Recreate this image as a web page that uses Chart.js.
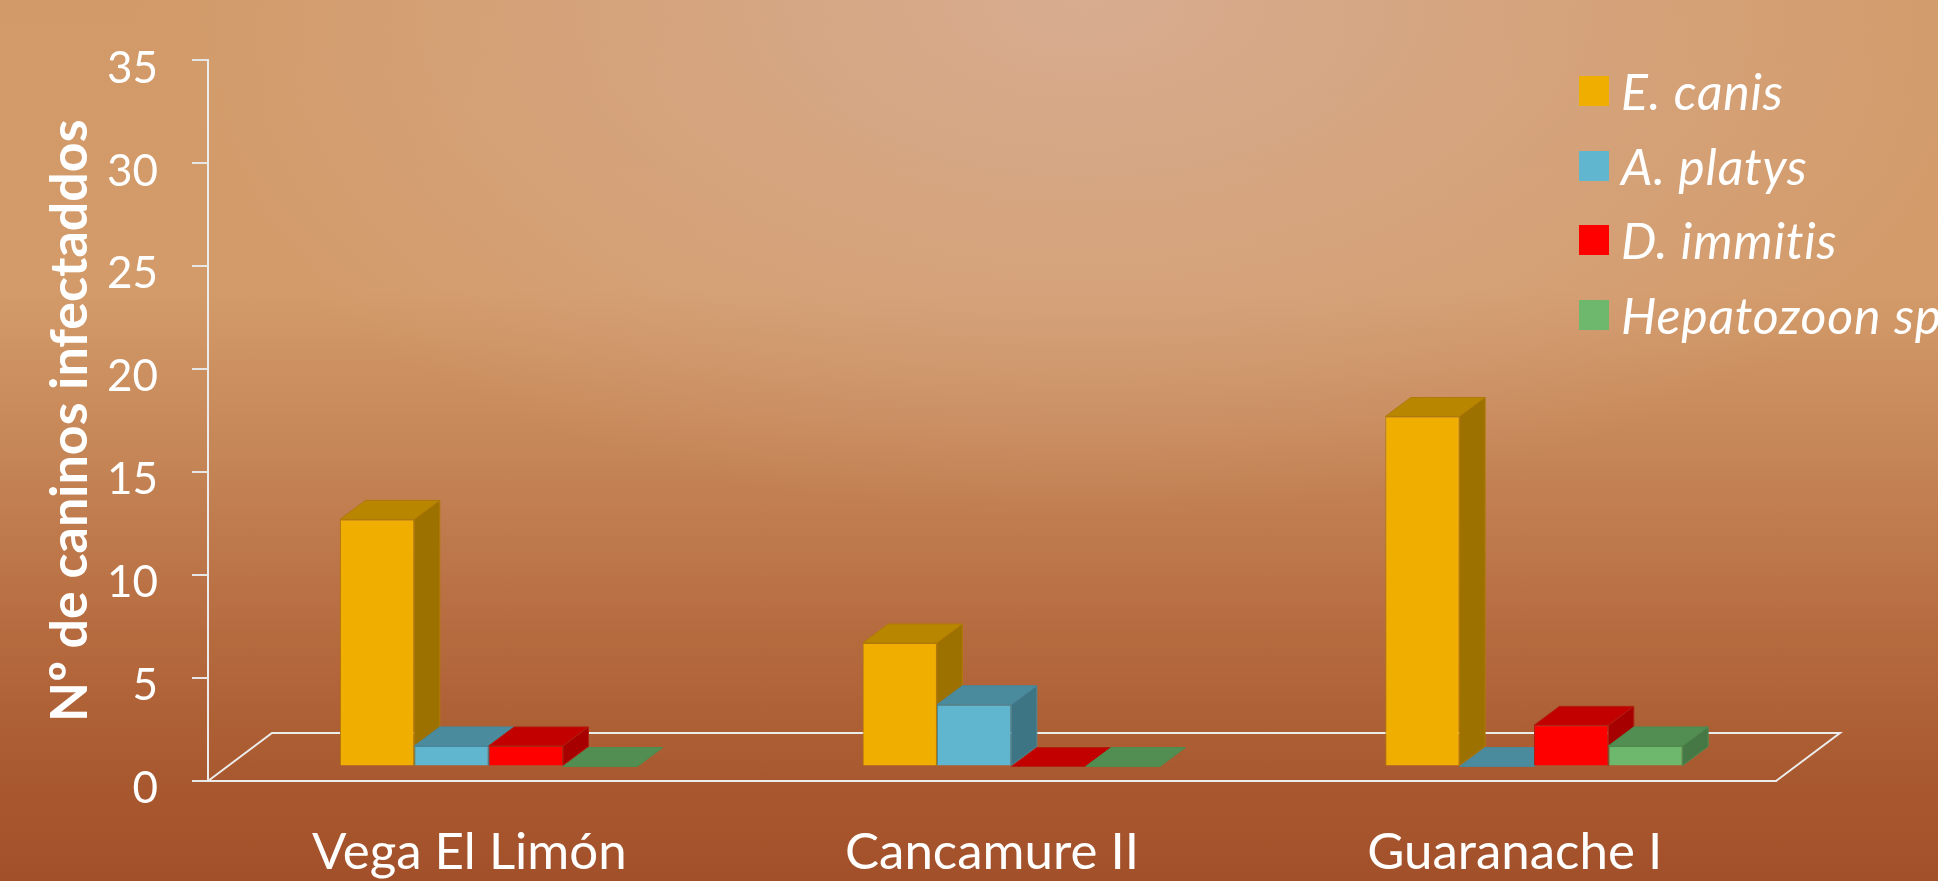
<!DOCTYPE html>
<html lang="es">
<head>
<meta charset="utf-8">
<title>Caninos infectados por localidad</title>
<script src="https://cdn.jsdelivr.net/npm/chart.js@4.4.1/dist/chart.umd.min.js"></script>
<style>
  html, body {
    margin: 0;
    width: 1938px;
    height: 881px;
    overflow: hidden;
  }
  body {
    position: relative;
    font-family: Lato, 'Open Sans', sans-serif;
    background:
      radial-gradient(ellipse 950px 520px at 56% 0%, rgba(216, 174, 148, 0.9), rgba(216, 174, 148, 0) 100%),
      linear-gradient(to bottom, #d29a68 0%, #d39b6a 33%, #c58556 52%, #b66b3f 72%, #a9592f 88%, #a2502a 100%);
  }
  #lienzo {
    position: absolute;
    left: 0; top: 0;
    width: 1938px;
    height: 881px;
  }
  #leyenda {
    position: absolute;
    left: 1579px;
    top: 54px;
    margin: 0;
    padding: 0;
    list-style: none;
    white-space: nowrap;
    color: #fff;
    font: italic 50px Lato, sans-serif;
    letter-spacing: 0.8px;
  }
  #leyenda li {
    height: 74.6px;
    display: flex;
    align-items: center;
  }
  #leyenda span.caja {
    width: 30px;
    height: 30px;
    margin-right: 12px;
    flex: none;
  }
</style>
</head>
<body>
<div id="lienzo"><canvas id="grafico"></canvas></div>
<ul id="leyenda"></ul>

<script>
// ───────────────────────── datos
const categorias   = ['Vega El Limón', 'Cancamure II', 'Guaranache I'];
const nombresSerie = ['E. canis', 'A. platys', 'D. immitis', 'Hepatozoon sp.'];
const eCanis       = [12, 6, 17];
const aPlatys      = [1, 3, 0];
const dImmitis     = [1, 0, 2];
const hepatozoon   = [0, 0, 1];
const ticksY       = [0, 5, 10, 15, 20, 25, 30, 35];

// colores de cada serie: cara frontal, cara superior, cara lateral
const colores = [
  { frente: '#F0AE00', arriba: '#B98600', lado: '#9D7100', borde: '#B07A08' },
  { frente: '#60B6CE', arriba: '#4A8C9E', lado: '#3D7585', borde: '#4A8698' },
  { frente: '#FF0000', arriba: '#C20000', lado: '#A60000', borde: '#B02010' },
  { frente: '#6DB86D', arriba: '#528E52', lado: '#467846', borde: '#4F8A4F' }
];

// ───────────────────────── efecto 3D (estilo, no datos)
const PISO_X  = 64,   PISO_Y  = -48;    // fondo del piso
const BARRA_X = 19.3, BARRA_Y = -14.5;  // las barras están a media profundidad
const PROF_X  = 25.5, PROF_Y  = -19;    // profundidad de cada barra
const LINEA   = '#ececec';

function poligono (ctx, pts, relleno, borde) {
  ctx.beginPath();
  ctx.moveTo(pts[0][0], pts[0][1]);
  for (let i = 1; i < pts.length; i++) ctx.lineTo(pts[i][0], pts[i][1]);
  ctx.closePath();
  ctx.fillStyle = relleno;
  ctx.fill();
  ctx.strokeStyle = borde;
  ctx.lineWidth = 1;
  ctx.stroke();
}

const barras3d = {
  id: 'barras3d',
  beforeDatasetsDraw (chart) {
    // contorno del piso (borde trasero y lados)
    const { ctx, chartArea: a } = chart;
    ctx.save();
    ctx.strokeStyle = LINEA;
    ctx.lineWidth = 2;
    ctx.beginPath();
    ctx.moveTo(a.left, a.bottom);
    ctx.lineTo(a.left + PISO_X, a.bottom + PISO_Y);
    ctx.lineTo(a.right + PISO_X, a.bottom + PISO_Y);
    ctx.lineTo(a.right, a.bottom);
    ctx.stroke();
    ctx.restore();
  },
  // las barras se dibujan abajo, en orden izquierda → derecha
  beforeDatasetDraw () { return false; },
  afterDatasetsDraw (chart) {
    const ctx = chart.ctx;
    ctx.save();
    ctx.translate(BARRA_X, BARRA_Y);
    chart.data.datasets.forEach((ds, i) => {
      const meta = chart.getDatasetMeta(i);
      const c = colores[i];
      meta.data.forEach(el => {
        el.draw(ctx);
        const { x, y, base, width } = el.getProps(['x', 'y', 'base', 'width'], true);
        const izq = x - width / 2, der = x + width / 2;
        // cara superior
        poligono(ctx, [[izq, y], [izq + PROF_X, y + PROF_Y], [der + PROF_X, y + PROF_Y], [der, y]], c.arriba, c.borde);
        // cara lateral
        if (base - y > 0.5) {
          poligono(ctx, [[der, y], [der + PROF_X, y + PROF_Y], [der + PROF_X, base + PROF_Y], [der, base]], c.lado, c.borde);
        }
      });
    });
    ctx.restore();
  }
};

// ───────────────────────── gráfica
const series = [eCanis, aPlatys, dImmitis, hepatozoon];

const ctx = document.getElementById('grafico').getContext('2d');
const chart = new Chart(ctx, {
  type: 'bar',
  data: {
    labels: categorias,
    datasets: series.map((d, i) => ({
      label: nombresSerie[i],
      data: d,
      backgroundColor: colores[i].frente,
      borderColor: colores[i].borde,
      borderWidth: 1,
      categoryPercentage: 0.569,
      barPercentage: 1,
      clip: false
    }))
  },
  options: {
    responsive: true,
    maintainAspectRatio: false,
    animation: false,
    layout: { padding: { top: 55, right: 162, left: 0, bottom: 0 } },
    plugins: {
      legend: { display: false },
      tooltip: { enabled: false }
    },
    scales: {
      x: {
        grid: { display: false, drawTicks: false },
        border: { display: true, color: LINEA, width: 2 },
        ticks: {
          color: '#fff',
          font: { family: 'Lato', size: 51 },
          padding: 41
        },
        afterFit (s) { s.height = 100; }
      },
      y: {
        min: ticksY[0],
        max: ticksY[ticksY.length - 1],
        ticks: {
          stepSize: ticksY[1] - ticksY[0],
          color: '#fff',
          font: { family: 'Lato', size: 44 },
          padding: 34,
          labelOffset: 8
        },
        grid: { drawOnChartArea: false, tickLength: 16, color: '#e6e6e6', lineWidth: 2 },
        border: { color: LINEA, width: 2 },
        title: {
          display: true,
          text: 'Nº de caninos infectaddos',
          color: '#fff',
          font: { family: 'Lato', size: 52, weight: 'bold', lineHeight: 1 },
          padding: { top: 44, bottom: 0 }
        },
        afterFit (s) { s.width = 208; }
      }
    }
  },
  plugins: [barras3d]
});

// ───────────────────────── leyenda en HTML
const leyenda = document.getElementById('leyenda');
nombresSerie.forEach((n, i) => {
  leyenda.insertAdjacentHTML(
    'beforeend',
    `<li><span class="caja" style="background:${colores[i].frente}"></span>${n}</li>`
  );
});
</script>
</body>
</html>
